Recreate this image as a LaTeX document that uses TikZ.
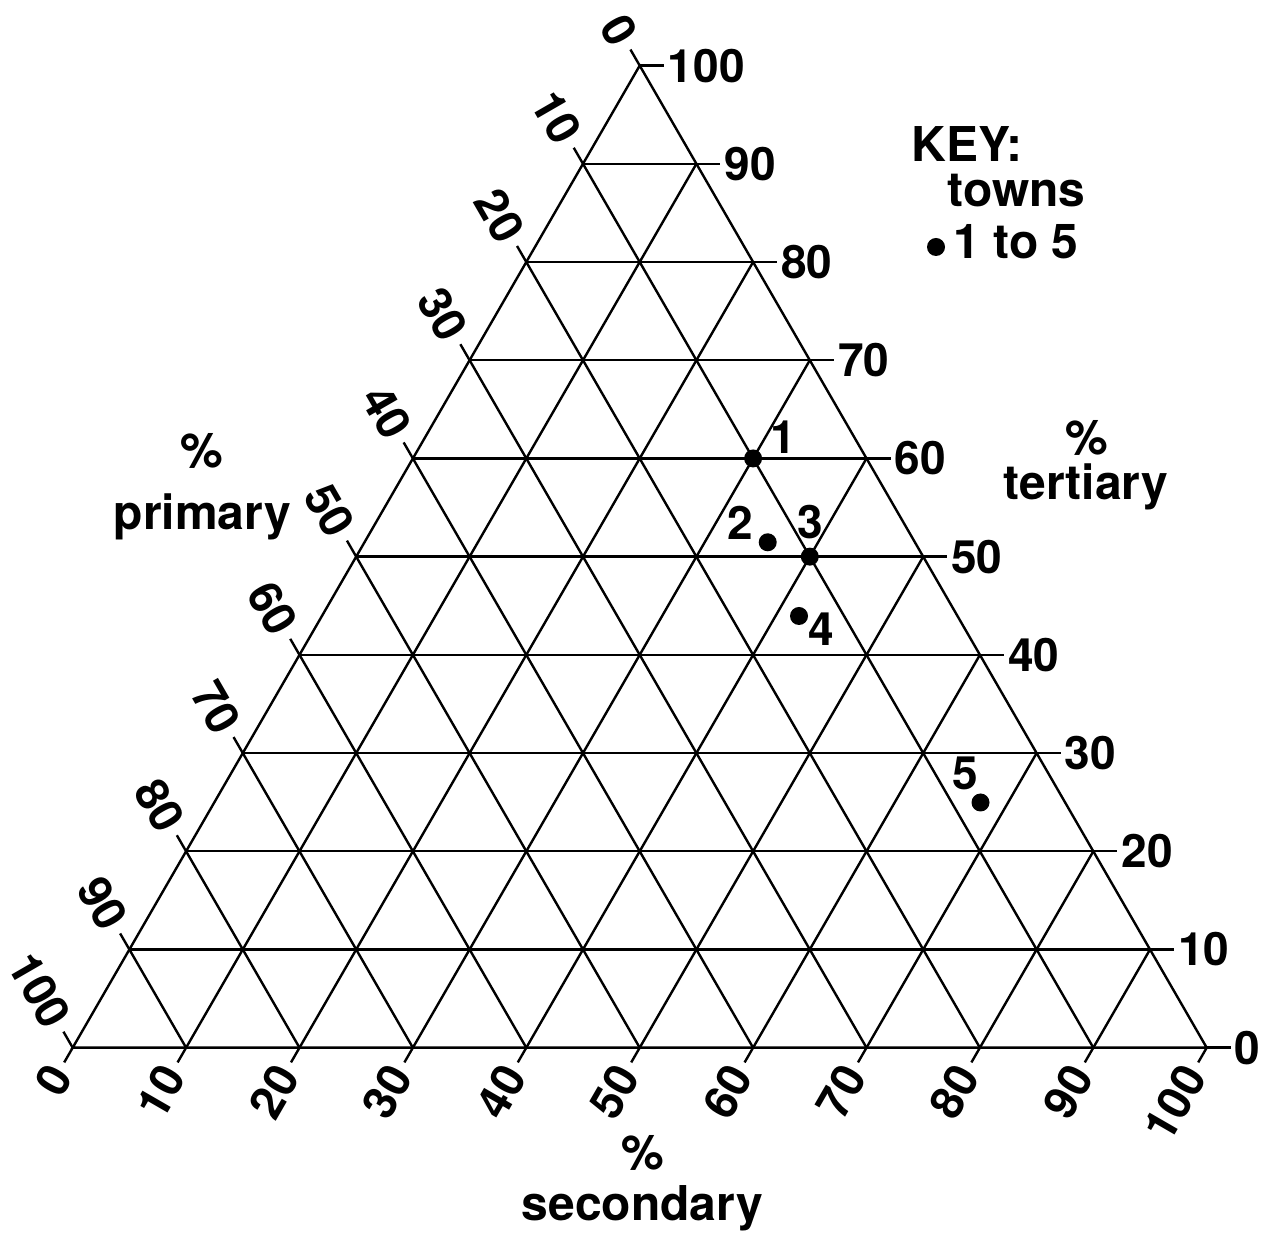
\documentclass[tikz,border=0pt]{standalone}
\usepackage{fontspec}
\setmainfont{TeX Gyre Heros}
\usetikzlibrary{calc}
\begin{document}
\begin{tikzpicture}[x=1pt,y=1pt,
  grid/.style={line width=2.4pt},
  lbl/.style={font=\fontsize{46}{48}\selectfont\bfseries, inner sep=0pt},
  wlbl/.style={font=\fontsize{48}{50}\selectfont\bfseries, inner sep=0pt},
  town/.style={circle, fill=black, draw=none, inner sep=0pt, minimum size=18pt}]
\useasboundingbox (0,0) rectangle (1265,1236);
\coordinate (A) at (72.7,188.3);
\coordinate (B) at (1206.7,188.3);
\coordinate (C) at (639.7,1170.4);
\foreach \k in {0,...,10} {
  \coordinate (P\k) at ($(A)!\k/10!(B)$);
  \coordinate (Q\k) at ($(A)!\k/10!(C)$);
  \coordinate (R\k) at ($(B)!\k/10!(C)$);
}
% grid
\draw[grid] (A) -- (B) -- (C) -- cycle;
\foreach \k in {1,...,9} {
  \pgfmathtruncatemacro\m{10-\k}
  \draw[grid] (Q\k) -- (R\k);
  \draw[grid] (P\k) -- (R\m);
  \draw[grid] (Q\k) -- (P\k);
}
% ticks and labels
\foreach \k in {0,...,10} {
  \pgfmathtruncatemacro\v{10*\k}
  \pgfmathtruncatemacro\w{100-10*\k}
  \coordinate (Pt\k) at ([shift={(240:17pt)}]P\k);
  \coordinate (Qt\k) at ([shift={(120:18.5pt)}]Q\k);
  \coordinate (Rt\k) at ([shift={(0:24pt)}]R\k);
  \draw[grid] (P\k) -- (Pt\k);
  \draw[grid] (Q\k) -- (Qt\k);
  \draw[grid] (R\k) -- (Rt\k);
  \node[lbl, rotate=60, anchor=east] (pl\k) at ([shift={(240:8pt)}]Pt\k) {\v};
  \node[lbl, rotate=-60, anchor=east] (ql\k) at ([shift={(120:9pt)}]Qt\k) {\w};
  \node[lbl, anchor=west] (rl\k) at ([shift={(0:4pt)}]Rt\k) {\v};
}
% towns
\node[town] (t1) at ($(Q6)!0.75!(R6)$) {};
\node[town] (t2) at (767.7,693.7) {};
\node[town] (t3) at ($(Q5)!0.8!(R5)$) {};
\node[town] (t4) at (799,620) {};
\node[town] (t5) at (980.5,433.5) {};
\node[lbl] (n1) at (783.3,798.5) {1};
\node[lbl] (n2) at (740,712.7) {2};
\node[lbl] (n3) at (810,714.3) {3};
\node[lbl] (n4) at (821.7,607) {4};
\node[lbl] (n5) at (965.7,462.7) {5};
% key
\node[wlbl, anchor=base west] (key) at (911.6,1074) {KEY:};
\node[wlbl, anchor=base west] (keytowns) at (947.7,1029.3) {towns};
\node[town] (keydot) at (936,989) {};
\node[wlbl, anchor=base west] (keyrange) at (953.5,977.7) {1 to 5};
% axis titles
\node[wlbl] (pp) at (201.7,785.2) {\%};
\node[wlbl, anchor=base] (prim) at (202.5,706) {primary};
\node[wlbl] (tp) at (1086.7,797.7) {\%};
\node[wlbl, anchor=base] (tert) at (1086,736) {tertiary};
\node[wlbl] (sp) at (643.3,82.7) {\%};
\node[wlbl, anchor=base] (seco) at (642.5,16) {secondary};
\end{tikzpicture}
\end{document}
